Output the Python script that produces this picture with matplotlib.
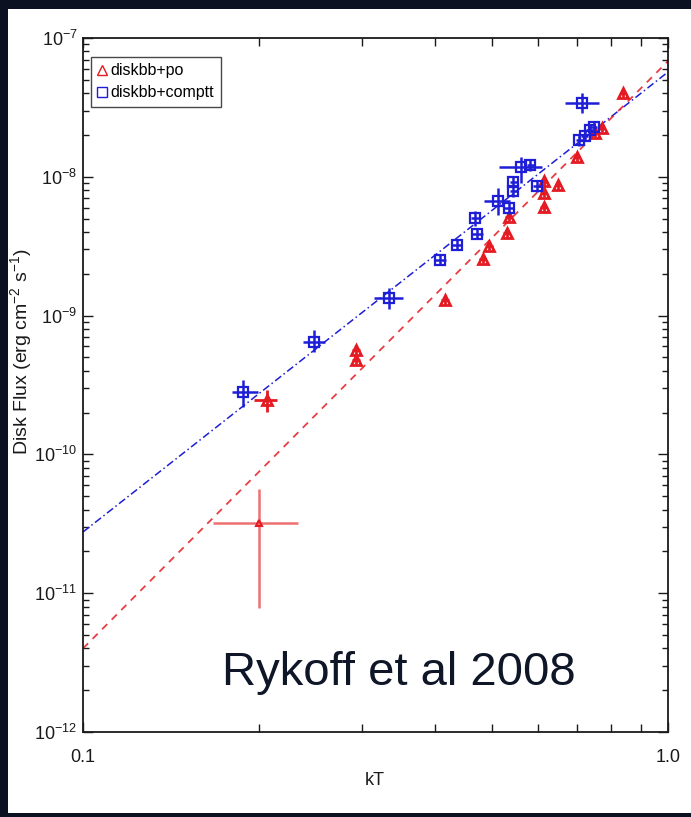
import numpy as np
import matplotlib
matplotlib.use('Agg')
import matplotlib.pyplot as plt
from matplotlib.patches import Rectangle
from matplotlib.ticker import FixedLocator, NullFormatter, LogLocator

plt.rcParams['font.family'] = ['Liberation Sans', 'DejaVu Sans']
plt.rcParams['mathtext.fontset'] = 'custom'
plt.rcParams['mathtext.rm'] = 'Liberation Sans'
plt.rcParams['mathtext.it'] = 'Liberation Sans:italic'
plt.rcParams['mathtext.bf'] = 'Liberation Sans:bold'

# diskbb+comptt (blue squares)
blue_kT = [0.188, 0.248, 0.334, 0.408, 0.435, 0.467, 0.472, 0.513, 0.534, 0.544,
           0.544, 0.560, 0.582, 0.598, 0.712, 0.705, 0.720, 0.735, 0.747]
blue_F = [2.82e-10, 6.46e-10, 1.34e-9, 2.52e-9, 3.23e-9, 5.05e-9, 3.87e-9, 6.70e-9, 5.95e-9, 9.18e-9,
          7.91e-9, 1.18e-8, 1.22e-8, 8.59e-9, 3.40e-8, 1.84e-8, 1.97e-8, 2.17e-8, 2.29e-8]
blue_kT_lo = [0.180, 0.2375, 0.314, 0.400, 0.426, 0.460, 0.462, 0.4856, 0.525, 0.537,
              0.537, 0.515, 0.573, 0.588, 0.666, 0.695, 0.710, 0.725, 0.737]
blue_kT_hi = [0.199, 0.259, 0.353, 0.418, 0.445, 0.475, 0.482, 0.536, 0.543, 0.551,
              0.551, 0.608, 0.592, 0.608, 0.762, 0.715, 0.730, 0.745, 0.757]
blue_F_lo = [2.20e-10, 5.47e-10, 1.12e-9, 2.30e-9, 2.95e-9, 4.4e-9, 3.55e-9, 5.31e-9, 5.4e-9, 8.4e-9,
             7.2e-9, 9.02e-9, 1.1e-8, 7.8e-9, 2.88e-8, 1.68e-8, 1.8e-8, 2.0e-8, 2.1e-8]
blue_F_hi = [3.44e-10, 7.87e-10, 1.58e-9, 2.75e-9, 3.55e-9, 5.7e-9, 4.2e-9, 8.30e-9, 6.5e-9, 1.0e-8,
             8.7e-9, 1.39e-8, 1.35e-8, 9.4e-9, 4.02e-8, 2.0e-8, 2.15e-8, 2.35e-8, 2.5e-8]

# diskbb+po (red triangles)
red_kT = [0.206, 0.293, 0.293, 0.416, 0.482, 0.495, 0.530, 0.534, 0.613,
          0.613, 0.613, 0.648, 0.698, 0.750, 0.771, 0.837]
red_F = [2.47e-10, 5.65e-10, 4.79e-10, 1.29e-9, 2.56e-9, 3.17e-9, 3.94e-9, 5.13e-9, 6.05e-9,
         7.63e-9, 9.33e-9, 8.73e-9, 1.39e-8, 2.07e-8, 2.25e-8, 4.02e-8]
red_kT_lo = [0.1957, 0.288, 0.288, 0.410, 0.475, 0.488, 0.523, 0.527, 0.605,
             0.605, 0.605, 0.640, 0.690, 0.740, 0.761, 0.827]
red_kT_hi = [0.2143, 0.298, 0.298, 0.422, 0.489, 0.502, 0.537, 0.541, 0.621,
             0.621, 0.621, 0.656, 0.706, 0.760, 0.781, 0.847]
red_F_lo = [2.02e-10, 5.3e-10, 4.5e-10, 1.2e-9, 2.4e-9, 2.95e-9, 3.65e-9, 4.8e-9, 5.6e-9,
            7.1e-9, 8.7e-9, 8.1e-9, 1.3e-8, 1.93e-8, 2.1e-8, 3.75e-8]
red_F_hi = [2.91e-10, 6.0e-10, 5.1e-10, 1.38e-9, 2.72e-9, 3.4e-9, 4.2e-9, 5.45e-9, 6.5e-9,
            8.2e-9, 1.0e-8, 9.3e-9, 1.48e-8, 2.22e-8, 2.4e-8, 4.3e-8]

# the faint low-flux diskbb+po point
faint_kT, faint_F = 0.200, 3.21e-11
faint_kT_lo, faint_kT_hi = 0.1665, 0.2328
faint_F_lo, faint_F_hi = 7.82e-12, 5.63e-11

# power-law fits (end points)
fit_kT = [0.1, 1.0]
blue_fit = [2.76e-11, 5.69e-8]
red_fit = [4.0e-12, 6.82e-8]

RED = '#e41b23'
BLUE = '#1e1ed6'
INK = '#1a1a1a'


def errs(v, lo, hi):
    v = np.asarray(v)
    return [v - np.asarray(lo), np.asarray(hi) - v]


fig = plt.figure(figsize=(6.91, 8.17), dpi=100, facecolor='#0b1120')
fig.patches.append(Rectangle((8 / 691, 4 / 817), 1 - 8 / 691, 1 - 13 / 817,
                             transform=fig.transFigure, facecolor='white',
                             edgecolor='none', zorder=-5))

ax = fig.add_axes([83 / 691, 85 / 817, 585 / 691, 694 / 817])
ax.set_facecolor('white')
ax.set_xscale('log')
ax.set_yscale('log')

ax.plot(fit_kT, blue_fit, color=BLUE, lw=1.1, dashes=(5, 2, 1, 2), zorder=2)
ax.plot(fit_kT, red_fit, color=RED, lw=1.3, dashes=(4, 3.5), alpha=0.85, zorder=2)

ax.errorbar(faint_kT, faint_F,
            xerr=[[faint_kT - faint_kT_lo], [faint_kT_hi - faint_kT]],
            yerr=[[faint_F - faint_F_lo], [faint_F_hi - faint_F]],
            fmt='^', ms=5, mfc='none', mec=RED, mew=1.5, ecolor='#ee7070',
            elinewidth=1.8, capsize=0, zorder=3)

ax.errorbar(red_kT, red_F, xerr=errs(red_kT, red_kT_lo, red_kT_hi),
            yerr=errs(red_F, red_F_lo, red_F_hi),
            fmt='^', ms=7.5, mfc='none', mec=RED, mew=2, ecolor=RED,
            elinewidth=2, capsize=0, zorder=3)

ax.errorbar(blue_kT, blue_F, xerr=errs(blue_kT, blue_kT_lo, blue_kT_hi),
            yerr=errs(blue_F, blue_F_lo, blue_F_hi),
            fmt='s', ms=7, mfc='none', mec=BLUE, mew=1.6, ecolor=BLUE,
            elinewidth=1.8, capsize=0, zorder=4)

ax.set_xlim(0.1, 1.0)
ax.set_ylim(1e-12, 1e-7)

ax.xaxis.set_major_locator(FixedLocator([0.1, 1.0]))
ax.set_xticklabels(['0.1', '1.0'])
ax.xaxis.set_minor_locator(FixedLocator([0.2, 0.3, 0.4, 0.5, 0.6, 0.7, 0.8, 0.9]))
ax.xaxis.set_minor_formatter(NullFormatter())
ax.yaxis.set_major_locator(LogLocator(base=10, numticks=10))
ax.yaxis.set_minor_locator(LogLocator(base=10, subs=np.arange(2, 10), numticks=10))
ax.yaxis.set_minor_formatter(NullFormatter())
ax.xaxis.offsetText.set_visible(False)
ax.yaxis.offsetText.set_visible(False)

ax.tick_params(which='both', direction='in', top=True, right=True, width=1.0,
               color=INK, labelcolor=INK)
ax.tick_params(axis='y', which='major', length=7, labelsize=13, pad=4)
ax.tick_params(axis='y', which='minor', length=4.5)
ax.tick_params(axis='x', which='major', length=7, labelsize=13, pad=12)
ax.tick_params(axis='x', which='minor', length=6)
for s in ax.spines.values():
    s.set_linewidth(1.3)
    s.set_color(INK)

ax.set_xlabel('kT', fontsize=13, color=INK)
ax.xaxis.set_label_coords((375 - 83) / 585, -(772 - 732) / 694)
ax.set_ylabel('Disk Flux (erg cm$^{-2}$ s$^{-1}$)', fontsize=14, color=INK)
ax.yaxis.set_label_coords(-(83 - 34) / 585, (732 - 352) / 694)

h1, = ax.plot([], [], '^', ms=6.5, mfc='none', mec=RED, mew=1.0, label='diskbb+po')
h2, = ax.plot([], [], 's', ms=6.5, mfc='none', mec=BLUE, mew=1.0, label='diskbb+comptt')
leg = ax.legend(handles=[h1, h2], loc='upper left', bbox_to_anchor=(0.013, 0.973),
                fontsize=11.5, frameon=True, fancybox=False, handlelength=0.6,
                handletextpad=0.25, borderpad=0.4, labelspacing=0.45,
                borderaxespad=0.0)
leg.get_frame().set_edgecolor(INK)
leg.get_frame().set_linewidth(1.0)

fig.text(222 / 691, 1 - 685 / 817, 'Rykoff et al 2008', fontsize=34,
         color='#0f1628', ha='left', va='baseline')

fig.savefig('out.png', dpi=100, facecolor=fig.get_facecolor())
